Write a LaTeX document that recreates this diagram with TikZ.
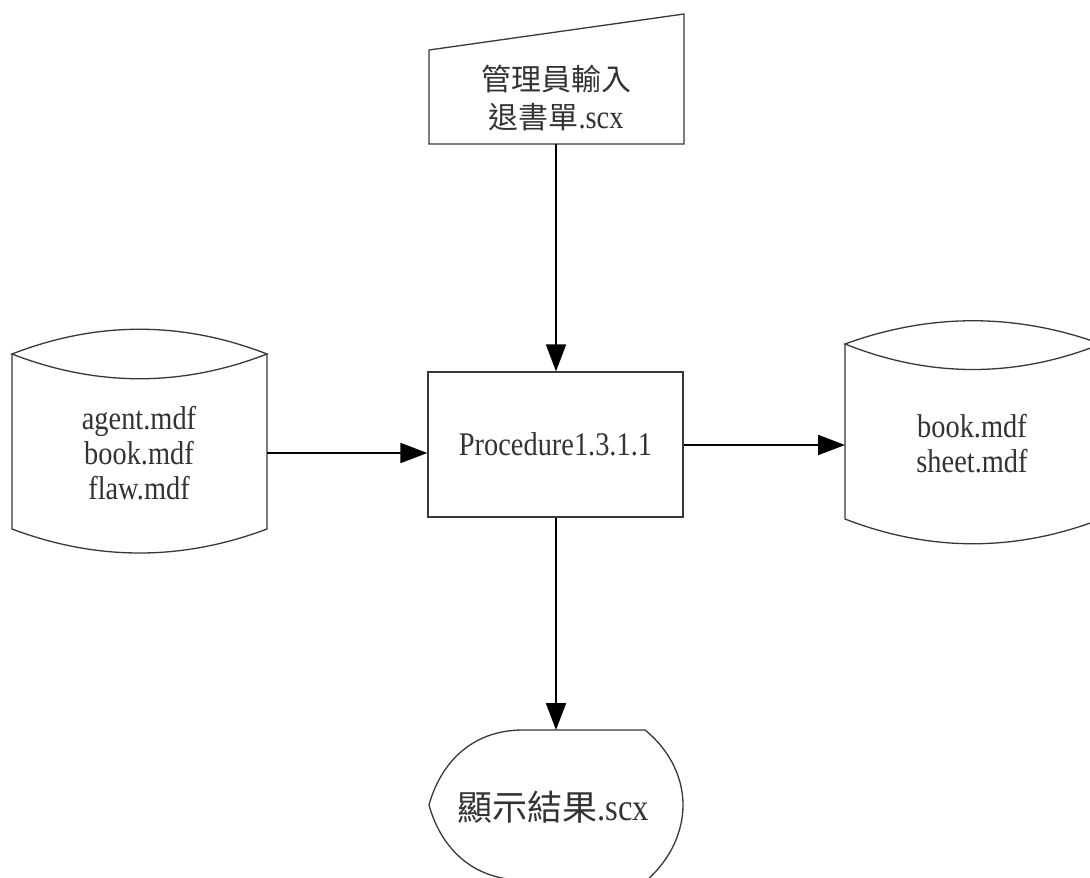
\documentclass[tikz,border=0pt]{standalone}
\usepackage{fontspec}
\setmainfont{Liberation Serif}[FakeStretch=0.86]
\newfontfamily\cjk{Noto Sans CJK TC}
\usetikzlibrary{arrows.meta}
\tikzset{
  outline/.style={draw=black!78, line width=1.3pt, line join=miter},
  arr/.style={draw=black, line width=2pt, -{Triangle[length=27pt,width=20pt]}},
  lbl/.style={text=black!80, align=center, inner sep=0pt, font=\fontsize{33}{35}\selectfont},
  procbox/.style={outline, rectangle, minimum width=255pt, minimum height=145pt, inner sep=0pt},
}
\newcommand{\cjkt}[2]{{\cjk\fontsize{#1}{38}\selectfont #2}}
\begin{document}
\begin{tikzpicture}[x=1pt,y=-1pt]
\useasboundingbox (0,0) rectangle (1090,878);
\begin{scope}
\clip (0,0) rectangle (1090,878);
\fill[white] (0,0) rectangle (1090,878);

% manual input
\draw[outline] (429,50) -- (684,14) -- (684,144) -- (429,144) -- cycle;
\coordinate (inS) at (556,144);
\node[lbl, font=\fontsize{33}{38}\selectfont] (intext) at (556,98) {\cjkt{30}{管理員輸入}\\\cjkt{30}{退書單}.scx};

% process
\node[procbox, lbl] (proc) at (555.5,444.5) {Procedure1.3.1.1};

% left data store
\draw[outline] (12,354) .. controls (97,321) and (182,321) .. (267,354)
                        .. controls (182,387) and (97,387) .. (12,354) -- cycle;
\draw[outline] (12,354) -- (12,529) .. controls (97,561) and (182,561) .. (267,529) -- (267,354);
\coordinate (lsE) at (267,453);
\node[lbl] (lstext) at (139,453) {agent.mdf\\book.mdf\\flaw.mdf};

% right data store
\draw[outline] (845,344) .. controls (930,313) and (1016,313) .. (1101,344)
                         .. controls (1016,378) and (930,378) .. (845,344) -- cycle;
\draw[outline] (845,344) -- (845,519) .. controls (930,552) and (1016,552) .. (1101,519) -- (1101,344);
\coordinate (rsW) at (845,445);
\node[lbl] (rstext) at (972,444) {book.mdf\\sheet.mdf};

% display
\draw[outline] (523,730) -- (645,730)
   .. controls (672,752) and (683,780) .. (683,805)
   .. controls (683,830) and (672,858) .. (647,880)
   -- (523,880)
   .. controls (470,880) and (440,845) .. (429,805)
   .. controls (440,765) and (470,730) .. (523,730) -- cycle;
\coordinate (dispN) at (556,730);
\node[lbl, font=\fontsize{38}{40}\selectfont] (disptext) at (553,807) {\cjkt{35}{顯示結果}.scx};

% connectors
\draw[arr] (inS) -- (inS |- proc.north);
\draw[arr] (lsE) -- (lsE -| proc.west);
\draw[arr] (proc.east |- rsW) -- (rsW);
\draw[arr] (dispN |- proc.south) -- (dispN);
\end{scope}
\end{tikzpicture}
\end{document}
